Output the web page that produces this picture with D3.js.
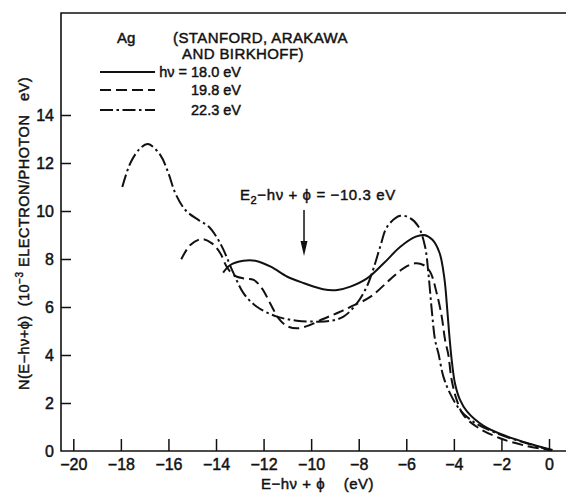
<!DOCTYPE html>
<html>
<head>
<meta charset="utf-8">
<script src="https://cdn.jsdelivr.net/npm/d3@7"></script>
<style>
  html, body { margin: 0; padding: 0; background: #fff; }
  svg { display: block; }
  text { font-family: "Liberation Sans", Arial, sans-serif; fill: #111; white-space: pre; }
  .heavy { stroke: #111; stroke-width: 0.45px; }
</style>
</head>
<body>
<svg id="chart" width="566" height="493"></svg>
<script>
// Energy distribution of photoemitted electrons from Ag at three photon energies.
// Abscissa: E − hν + ϕ (eV); ordinate: N (10^-3 electron / photon eV).

const xTicks = [-20, -18, -16, -14, -12, -10, -8, -6, -4, -2, 0];
const yTicks = [0, 2, 4, 6, 8, 10, 12, 14];

// hν = 18.0 eV (solid)
const e18 = [-13.7, -13.4, -12.85, -12.35, -11.7, -11.0, -10.3, -9.5, -8.9, -8.35, -7.65, -6.95,
             -6.25, -5.6, -5.25, -4.9, -4.6, -4.4, -4.27, -4.18, -4.08, -3.95, -3.75, -3.45,
             -2.75, -1.8, -0.7, 0.15];
const n18 = [7.43, 7.75, 7.93, 7.93, 7.68, 7.26, 6.99, 6.74, 6.71, 6.85, 7.19, 7.82,
             8.51, 8.93, 9.0, 8.8, 8.25, 7.2, 5.8, 4.7, 3.7, 2.8, 2.15, 1.65,
             1.05, 0.62, 0.27, 0.04];

// hν = 19.8 eV (dashed)
const e198 = [-15.46, -15.08, -14.6, -14.17, -13.82, -13.55, -13.26, -12.84, -12.42, -12.07,
              -11.72, -11.37, -11.02, -10.6, -10.05, -9.5, -8.9, -8.35, -7.5, -6.7, -6.12,
              -5.63, -5.28, -5.0, -4.72, -4.51, -4.37, -4.23, -4.1, -3.88, -3.6, -3.04,
              -2.06, -0.94, 0.1];
const n198 = [7.99, 8.58, 8.83, 8.65, 8.24, 7.68, 7.33, 7.19, 7.13, 6.78,
              6.15, 5.53, 5.21, 5.11, 5.25, 5.5, 5.75, 6.0, 6.43, 7.13, 7.61,
              7.82, 7.75, 7.47, 6.57, 5.6, 4.63, 4.0, 3.0, 2.13, 1.5, 1.01,
              0.53, 0.21, 0.03];

// hν = 22.3 eV (dash-dot)
const e223 = [-17.94, -17.6, -17.2, -16.86, -16.34, -16.0, -15.71, -15.29, -14.73, -14.31,
              -13.9, -13.68, -13.26, -12.84, -12.28, -11.44, -10.6, -9.76, -9.2, -8.64,
              -8.08, -7.66, -7.38, -7.1, -6.8, -6.26, -5.84, -5.49, -5.21, -5.07, -4.93,
              -4.79, -4.65, -4.44, -4.16, -3.74, -3.18, -2.2, -0.94, 0.1];
const n223 = [11.0, 12.0, 12.6, 12.79, 12.33, 11.57, 10.74, 10.04, 9.62, 9.35,
              8.79, 8.37, 7.4, 6.57, 6.01, 5.6, 5.43, 5.39, 5.42, 5.6,
              6.15, 6.85, 7.6, 8.5, 9.35, 9.8, 9.7, 9.35, 8.51, 7.4, 5.88,
              4.63, 4.07, 3.1, 2.4, 1.71, 1.22, 0.74, 0.32, 0.03];

const seriesLabels = ["h\u03bd = 18.0 eV", "19.8 eV", "22.3 eV"];
const e2Marker = -10.3;

const svg = d3.select("#chart");
const W = 566, H = 493;

const x = d3.scaleLinear().domain([-20, 0]).range([73.3, 549]);
const y = d3.scaleLinear().domain([0, 14]).range([451, 115]);

const frameLeft = 61, frameTop = 13, frameBottom = y(0);

// frame: left axis, bottom axis, top rule
const frame = svg.append("g").attr("stroke", "#111").attr("stroke-width", 1.6).attr("fill", "none");
frame.append("path").attr("d", `M${W},${frameTop}H${frameLeft}V${frameBottom}H${W}`);

// bottom axis with inward ticks
const xAxis = d3.axisBottom(x).tickValues(xTicks).tickSizeInner(-12).tickSizeOuter(0).tickPadding(8)
  .tickFormat(d => d3.format("d")(d).replace("-", "\u2212"));
const gx = svg.append("g").attr("transform", `translate(0,${frameBottom})`).call(xAxis);
gx.select(".domain").remove();
gx.selectAll(".tick line").attr("stroke", "#111").attr("stroke-width", 1.5);
gx.selectAll(".tick text").attr("font-size", 16).attr("fill", "#111").attr("class", "heavy")
  .attr("font-family", "Liberation Sans, Arial, sans-serif");

// left axis with inward ticks
const yAxis = d3.axisLeft(y).tickValues(yTicks).tickSizeInner(-10).tickSizeOuter(0).tickPadding(7);
const gy = svg.append("g").attr("transform", `translate(${frameLeft},0)`).call(yAxis);
gy.select(".domain").remove();
gy.selectAll(".tick line").attr("stroke", "#111").attr("stroke-width", 1.5)
  .filter(d => d === 0).remove();
gy.selectAll(".tick text").attr("font-size", 16).attr("fill", "#111").attr("class", "heavy")
  .attr("font-family", "Liberation Sans, Arial, sans-serif");

// curves
const line = d3.line().x(d => x(d[0])).y(d => y(d[1])).curve(d3.curveCatmullRom.alpha(0.5));
const styles = [
  { dash: null },
  { dash: "11,5" },
  { dash: "13,3.5,2.5,3.5" }
];
const series = [d3.zip(e18, n18), d3.zip(e198, n198), d3.zip(e223, n223)];
series.forEach((pts, i) => {
  svg.append("path")
    .attr("d", line(pts))
    .attr("fill", "none")
    .attr("stroke", "#111")
    .attr("stroke-width", 2)
    .attr("stroke-dasharray", styles[i].dash);
});

// legend
const lg = svg.append("g");
lg.append("text").attr("class", "heavy").attr("x", 117).attr("y", 43).attr("font-size", 15).text("Ag");
lg.append("text").attr("class", "heavy").attr("x", 173).attr("y", 43).attr("font-size", 15)
  .attr("letter-spacing", 0.4).text("(STANFORD, ARAKAWA");
lg.append("text").attr("class", "heavy").attr("x", 182).attr("y", 59).attr("font-size", 15)
  .attr("letter-spacing", 0.4).text("AND BIRKHOFF)");
const legendY = [72, 90, 110];
seriesLabels.forEach((lab, i) => {
  lg.append("line").attr("x1", 100).attr("x2", 155).attr("y1", legendY[i]).attr("y2", legendY[i])
    .attr("stroke", "#111").attr("stroke-width", 2).attr("stroke-dasharray", styles[i].dash);
  lg.append("text").attr("class", "heavy").attr("x", 241).attr("y", legendY[i] + 5)
    .attr("text-anchor", "end").attr("font-size", 14.5).text(lab);
});

// E2 marker annotation
const ann = svg.append("text").attr("class", "heavy").attr("x", 240).attr("y", 200)
  .attr("font-size", 15).attr("letter-spacing", 0.6);
ann.append("tspan").text("E");
ann.append("tspan").attr("dy", 4).attr("font-size", 11).text("2");
ann.append("tspan").attr("dy", -4).text("\u2212h\u03bd + \u03d5 = \u221210.3 eV");

const ax = x(e2Marker);
svg.append("line").attr("x1", ax).attr("x2", ax).attr("y1", 210).attr("y2", 245)
  .attr("stroke", "#111").attr("stroke-width", 1.5);
svg.append("path").attr("d", `M${ax - 3.5},${241}L${ax + 3.5},${241}L${ax},${256}Z`).attr("fill", "#111");

// axis titles
svg.append("text").attr("class", "heavy").attr("x", 261).attr("y", 489).attr("font-size", 15)
  .attr("letter-spacing", 0.5)
  .text("E\u2212h\u03bd + \u03d5    (eV)");

const yt = svg.append("text").attr("class", "heavy").attr("font-size", 14.5)
  .attr("letter-spacing", 0.5)
  .attr("transform", "translate(29,390) rotate(-90)");
yt.append("tspan").text("N(E\u2212h\u03bd+\u03d5)  (10");
yt.append("tspan").attr("dy", -6).attr("font-size", 10).text("\u22123");
yt.append("tspan").attr("dy", 6).text(" ELECTRON/PHOTON   eV)");
</script>
</body>
</html>
